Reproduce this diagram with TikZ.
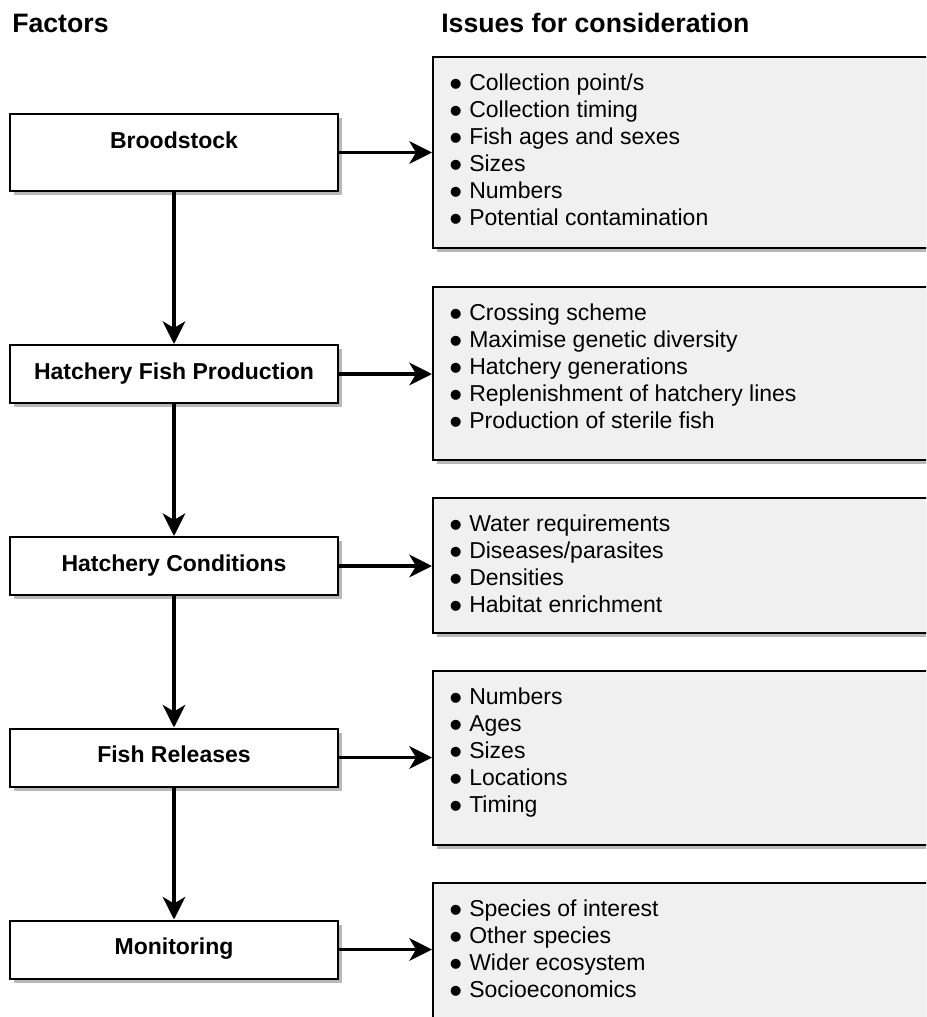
\documentclass[tikz,border=0pt]{standalone}
\usepackage{fontspec}
\setmainfont{Liberation Sans}
\usetikzlibrary{arrows.meta,shadows}

\newcommand{\issdot}{\makebox[15pt][l]{\raisebox{-0.26em}[0pt][0pt]{\scalebox{1.6}{\textbullet}}}}

\tikzset{
  factorbox/.style={draw=black, line width=1.5pt, fill=white, minimum width=246pt, inner sep=0pt,
    font=\bfseries\fontsize{17.25pt}{20.25pt}\selectfont,
    drop shadow={shadow xshift=3.2pt, shadow yshift=-3.2pt, fill=black!28, opacity=1}},
  issuebox/.style={draw=black, line width=1.5pt, fill=black!6, minimum width=395.25pt, inner sep=0pt,
    drop shadow={shadow xshift=3.2pt, shadow yshift=-3.2pt, fill=black!28, opacity=1}},
  issuetext/.style={anchor=north west, align=left, inner sep=0pt, font=\fontsize{17.25pt}{20.25pt}\selectfont},
  heading/.style={anchor=base west, inner sep=0pt, font=\bfseries\fontsize{20pt}{24pt}\selectfont},
  flow/.style={line width=2.6pt, -{Stealth[length=17pt,width=17pt,inset=5pt]}}
}

\begin{document}
\begin{tikzpicture}[x=0.75pt,y=0.75pt,yscale=-1,xscale=1]
\useasboundingbox (0,0) rectangle (926,1017);
\clip (0,0) rectangle (926,1017);
% Headings
\node (hfac) [heading] at (12,32) {Factors};
\node (hiss) [heading] at (441,32) {Issues for consideration};
% Factor boxes
\node (brood) [factorbox, text height=25.5pt, text depth=32.25pt] at (174,152.5) {Broodstock};
\node (prod) [factorbox, text height=25.5pt, text depth=18pt] at (174,374) {Hatchery Fish Production};
\node (cond) [factorbox, text height=25.5pt, text depth=18pt] at (174,566) {Hatchery Conditions};
\node (rel) [factorbox, text height=25.5pt, text depth=18pt] at (174,757.5) {Fish Releases};
\node (mon) [factorbox, text height=25.5pt, text depth=18pt] at (174,949.5) {Monitoring};
% Issue boxes
\node (issbrood) [issuebox, minimum height=143.25pt] at (696.5,152.5) {};
\node (issprod) [issuebox, minimum height=129.75pt] at (696.5,373.5) {};
\node (isscond) [issuebox, minimum height=101.25pt] at (696.5,565.5) {};
\node (issrel) [issuebox, minimum height=130.5pt] at (696.5,758) {};
\node (issmon) [issuebox, minimum height=105pt] at (696.5,953) {};
% Issue lists
\node (txtbrood) [issuetext] at (449,74) {\issdot Collection point/s\\\issdot Collection timing\\\issdot Fish ages and sexes\\\issdot Sizes\\\issdot Numbers\\\issdot Potential contamination};
\node (txtprod) [issuetext] at (449,304) {\issdot Crossing scheme\\\issdot Maximise genetic diversity\\\issdot Hatchery generations\\\issdot Replenishment of hatchery lines\\\issdot Production of sterile fish};
\node (txtcond) [issuetext] at (449,515) {\issdot Water requirements\\\issdot Diseases/parasites\\\issdot Densities\\\issdot Habitat enrichment};
\node (txtrel) [issuetext] at (449,688) {\issdot Numbers\\\issdot Ages\\\issdot Sizes\\\issdot Locations\\\issdot Timing};
\node (txtmon) [issuetext] at (449,900) {\issdot Species of interest\\\issdot Other species\\\issdot Wider ecosystem\\\issdot Socioeconomics};
% Down arrows
\draw [flow] (brood) -- (prod);
\draw [flow] (prod) -- (cond);
\draw [flow] (cond) -- (rel);
\draw [flow] (rel) -- (mon);
% Side arrows
\draw [flow] (brood.east) -- (brood.east -| issbrood.west);
\draw [flow] (prod.east) -- (prod.east -| issprod.west);
\draw [flow] (cond.east) -- (cond.east -| isscond.west);
\draw [flow] (rel.east) -- (rel.east -| issrel.west);
\draw [flow] (mon.east) -- (mon.east -| issmon.west);
\end{tikzpicture}
\end{document}
